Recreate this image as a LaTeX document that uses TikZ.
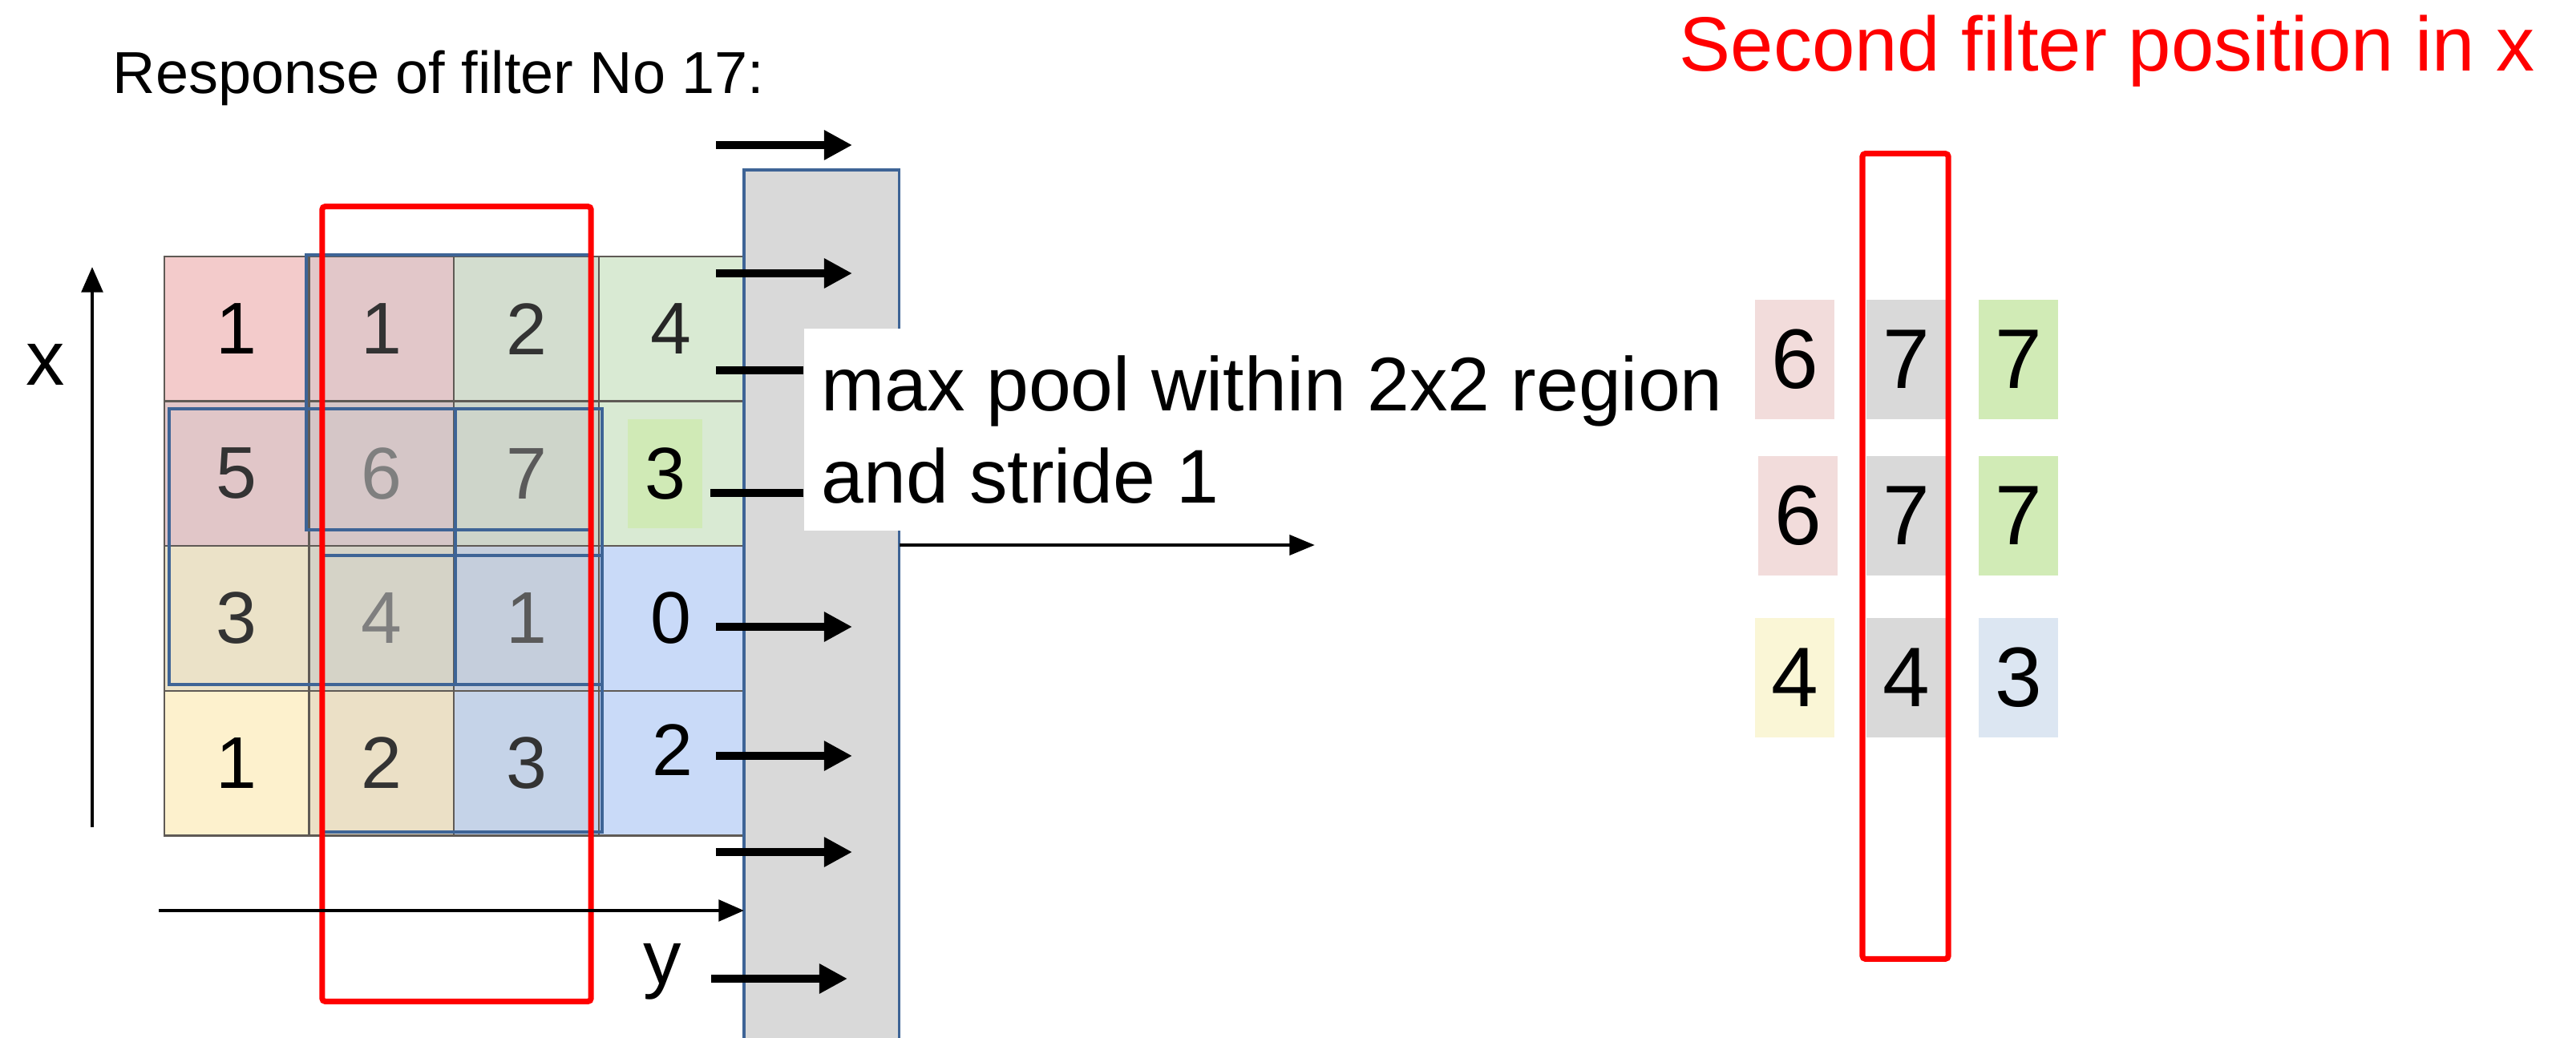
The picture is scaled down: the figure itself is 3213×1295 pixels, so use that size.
\documentclass[tikz,border=0pt]{standalone}
\usepackage{fontspec}
\setmainfont{Liberation Sans}
\usetikzlibrary{positioning,arrows.meta}
\definecolor{gridGray}{RGB}{95,90,85}
\definecolor{winBlue}{RGB}{62,100,150}
\definecolor{barGray}{RGB}{217,217,217}
\definecolor{pinkA}{RGB}{243,203,203}
\definecolor{roseB}{RGB}{226,199,201}
\definecolor{sageC}{RGB}{211,221,207}
\definecolor{mintD}{RGB}{217,234,211}
\definecolor{roseE}{RGB}{225,198,200}
\definecolor{mauveF}{RGB}{213,198,199}
\definecolor{sageG}{RGB}{206,213,202}
\definecolor{beigeH}{RGB}{235,226,200}
\definecolor{stoneI}{RGB}{213,211,199}
\definecolor{slateJ}{RGB}{197,206,220}
\definecolor{blueK}{RGB}{201,218,248}
\definecolor{creamL}{RGB}{253,241,205}
\definecolor{sandM}{RGB}{235,224,198}
\definecolor{steelN}{RGB}{197,211,232}
\definecolor{insetGreen}{RGB}{208,234,182}
\definecolor{poolPink}{RGB}{242,220,219}
\definecolor{poolGray}{RGB}{217,217,217}
\definecolor{poolGreen}{RGB}{209,235,182}
\definecolor{poolYellow}{RGB}{250,246,214}
\definecolor{poolBlue}{RGB}{220,230,242}
\definecolor{digitDark}{RGB}{51,51,51}
\definecolor{digitMid}{RGB}{90,90,90}
\definecolor{digitLight}{RGB}{127,127,127}

\begin{document}
\begin{tikzpicture}[
    x=0.01cm, y=-0.01cm,
    node distance=0.39cm,
    cell/.style={rectangle, draw=gridGray, line width=0.7pt, minimum width=1.805cm, minimum height=1.805cm, inner sep=0pt, outer sep=0pt, font=\fontsize{26}{30}\selectfont},
    poolcell/.style={rectangle, minimum width=0.99cm, minimum height=1.49cm, inner sep=0pt, font=\fontsize{30}{34}\selectfont},
    window/.style={draw=winBlue, line width=1.1pt},
    redbox/.style={rectangle, draw=red, line width=2pt, rounded corners=1pt, inner sep=0pt},
    labelbox/.style={rectangle, fill=white, inner xsep=0.22cm, inner ysep=0.34cm, align=left, font=\fontsize{27}{32.7}\selectfont},
    fatarrow/.style={-{Triangle[length=10pt,width=10pt]}, line width=3.1pt},
    fatline/.style={line width=3.1pt},
    thinarrow/.style={-{Triangle[length=9pt,width=7pt]}, line width=1.4pt},
    axis/.style={-{Triangle[length=9pt,width=7.5pt]}, line width=1.3pt}
]
\useasboundingbox (0,0) rectangle (3213,1295);

% titles
\node[anchor=base west, inner sep=0pt, font=\fontsize{21}{25}\selectfont] (title) at (140,117) {Response of filter No 17:};
\node[anchor=base west, inner sep=0pt, text=red, font=\fontsize{27.3}{32}\selectfont] (second) at (2094,89) {Second filter position in x};

% response map
\node[cell, fill=pinkA, text=black] (c11) at (295.25,410.25) {1};
\node[cell, fill=roseB, text=digitDark, right=0pt of c11] (c12) {1};
\node[cell, fill=sageC, text=digitDark, right=0pt of c12] (c13) {2};
\node[cell, fill=mintD, text=black!85, right=0pt of c13] (c14) {4};
\node[cell, fill=roseE, text=digitDark, below=0pt of c11] (c21) {5};
\node[cell, fill=mauveF, text=digitLight, right=0pt of c21] (c22) {6};
\node[cell, fill=sageG, text=digitMid, right=0pt of c22] (c23) {7};
\node[cell, fill=mintD, right=0pt of c23] (c24) {};
\node[cell, fill=beigeH, text=digitDark, below=0pt of c21] (c31) {3};
\node[cell, fill=stoneI, text=digitLight, right=0pt of c31] (c32) {4};
\node[cell, fill=slateJ, text=digitMid, right=0pt of c32] (c33) {1};
\node[cell, fill=blueK, text=black, right=0pt of c33] (c34) {0};
\node[cell, fill=creamL, text=black, below=0pt of c31] (c41) {1};
\node[cell, fill=sandM, text=digitDark, right=0pt of c41] (c42) {2};
\node[cell, fill=steelN, text=digitDark, right=0pt of c42] (c43) {3};
\node[cell, fill=blueK, text=black, right=0pt of c43] (c44) {};
\node[rectangle, fill=insetGreen, minimum width=0.93cm, minimum height=1.36cm, inner sep=0pt, font=\fontsize{26}{30}\selectfont] (v24) at (829.5,591) {3};
\node[font=\fontsize{26}{30}\selectfont] (v44) at (839,936) {2};

% 2x2 windows
\draw[window] (382,318) rectangle (737,661);
\draw[window] (211,510) rectangle (568,854);
\draw[window] (568,510) rectangle (751,854);
\draw[window] (402,693) rectangle (751,1038);

% first filter position
\node[redbox, minimum width=3.35cm, minimum height=9.91cm] (firstwin) at (569.5,753.5) {};

% axes
\coordinate (xfoot) at (115,1032);
\coordinate (xtip) at (115,333);
\draw[axis] (xfoot) -- (xtip);
\node[anchor=base, font=\fontsize{27.5}{32}\selectfont] (xlab) at (57,481) {x};

% pooled column
\node[rectangle, fill=barGray, anchor=north west, minimum width=1.92cm, minimum height=10.83cm, inner sep=0pt] (bar) at (928,212) {};
\draw[draw=winBlue, line width=0.9pt] (bar.south west) |- (bar.north east) -- (bar.south east);

\coordinate (yfoot) at (198,1136);
\draw[axis] (yfoot) -- (bar.west |- yfoot);
\node[anchor=base, font=\fontsize{27}{32}\selectfont] (ylab) at (826,1227) {y};

% arrows into the pooled column
\coordinate (f1) at (893,181);
\coordinate (f2) at (893,341);
\coordinate (f3) at (893,782);
\coordinate (f4) at (893,943);
\coordinate (f5) at (893,1063);
\coordinate (f6) at (887,1221);
\draw[fatarrow] (f1) -- ++(170,0);
\draw[fatarrow] (f2) -- ++(170,0);
\draw[fatarrow] (f3) -- ++(170,0);
\draw[fatarrow] (f4) -- ++(170,0);
\draw[fatarrow] (f5) -- ++(170,0);
\draw[fatarrow] (f6) -- ++(170,0);

% label
\node[labelbox, anchor=north west] (pool) at (1002,409) {max pool within 2x2 region\\and stride 1};
\coordinate (l1) at (893,462);
\coordinate (l2) at (886,615);
\draw[fatline] (l1) -- (l1 -| pool.west);
\draw[fatline] (l2) -- (l2 -| pool.west);

\coordinate (res) at (1640,680);
\draw[thinarrow] (bar.east |- res) -- (res);

% pooled result
\node[poolcell, fill=poolPink] (p11) at (2238.5,448.5) {6};
\node[poolcell, fill=poolGray, right=of p11] (p12) {7};
\node[poolcell, fill=poolGreen, right=of p12] (p13) {7};
\node[poolcell, fill=poolPink] (p21) at (2242.5,643.5) {6};
\node[poolcell, fill=poolGray, right=0.35cm of p21] (p22) {7};
\node[poolcell, fill=poolGreen, right=of p22] (p23) {7};
\node[poolcell, fill=poolYellow] (p31) at (2238.5,845.5) {4};
\node[poolcell, fill=poolGray, right=of p31] (p32) {4};
\node[poolcell, fill=poolBlue, right=of p32] (p33) {3};

% second filter position
\node[redbox, minimum width=1.07cm, minimum height=10.04cm] (secondwin) at (2376.5,694) {};
\end{tikzpicture}
\end{document}
